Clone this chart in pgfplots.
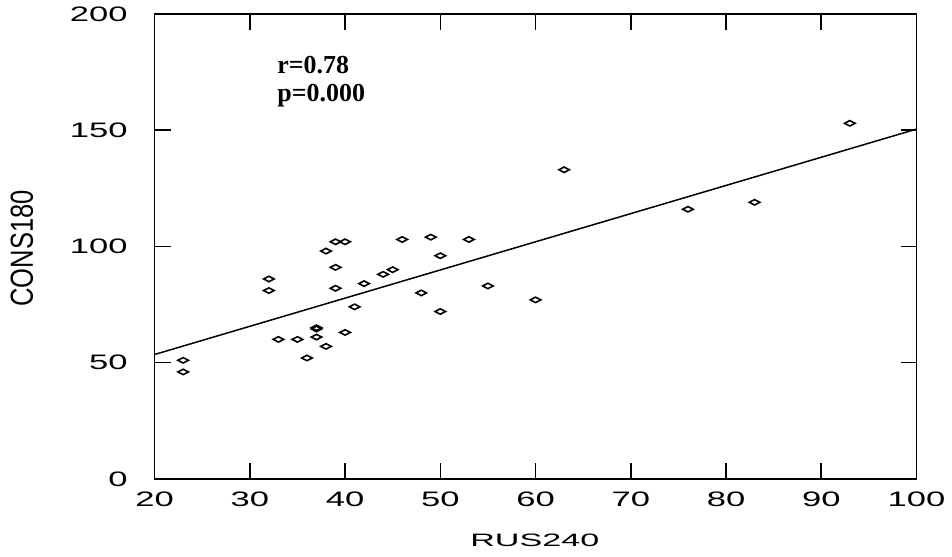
\documentclass[border=0pt]{standalone}
\usepackage{fontspec}
\setmainfont{Liberation Serif}
\newfontfamily\lab{Liberation Sans}
\usepackage{graphicx}
\usepackage{pgfplots}
\pgfplotsset{compat=1.18}
\usetikzlibrary{calc}

\begin{document}
\begin{tikzpicture}
\begin{axis}[
    scale only axis,
    width=382pt, height=233pt,
    xmin=20, xmax=100, ymin=0, ymax=200,
    xtick={20,30,...,100}, ytick={0,50,...,200},
    tick align=inside, major tick length=8pt,
    xtick pos=both, ytick pos=both,
    axis line style={line width=0.9pt},
    every tick/.style={black, line width=0.8pt},
    /pgf/number format/assume math mode=true,
    xticklabel={\scalebox{1.65}[1]{\lab\fontsize{10.5}{12}\selectfont\pgfmathprintnumber{\tick}}},
    yticklabel={\scalebox{1.65}[1]{\lab\fontsize{10.5}{12}\selectfont\pgfmathprintnumber{\tick}}},
    xticklabel style={yshift=-3pt},
    yticklabel style={xshift=-10pt},
    xlabel={\scalebox{1.9}[1]{\lab\fontsize{9}{11}\selectfont RUS240}},
    ylabel={\scalebox{0.8}[1]{\lab\fontsize{16}{18}\selectfont CONS180}},
    xlabel style={at={(axis description cs:0.499,-0.133)}, anchor=center},
    ylabel style={at={(axis description cs:-0.174,0.496)}, anchor=center},
    clip=false,
]
% regression line
\addplot[black, line width=0.75pt] coordinates {(20,53.5) (100,150.5)};
% observations
\addplot[only marks, mark=diamond, mark size=1.6pt,
    mark options={xscale=2.2, yscale=0.85, line width=0.8pt, black}]
coordinates {
(23,51) (23,46) (32,86) (32,81) (33,60) (35,60) (36,52)
(37,65) (37,64.5) (37,61) (38,57) (38,98) (39,102) (39,91) (39,82)
(40,102) (40,63) (41,74) (42,84) (44,88) (45,90) (46,103) (48,80)
(49,104) (50,96) (50,72) (53,103) (55,83) (60,77) (63,133)
(76,116) (83,119) (93,153)
};
\node[anchor=west, font=\bfseries\fontsize{13}{15}\selectfont] at (rel axis cs:0.152,0.89) {r=0.78};
\node[anchor=west, font=\bfseries\fontsize{13}{15}\selectfont] at (rel axis cs:0.152,0.825) {p=0.000};
\end{axis}
\path ($(current axis.south west)+(-77.5pt,-39pt)$) rectangle ($(current axis.north east)+(16.5pt,6.5pt)$);
\end{tikzpicture}
\end{document}
